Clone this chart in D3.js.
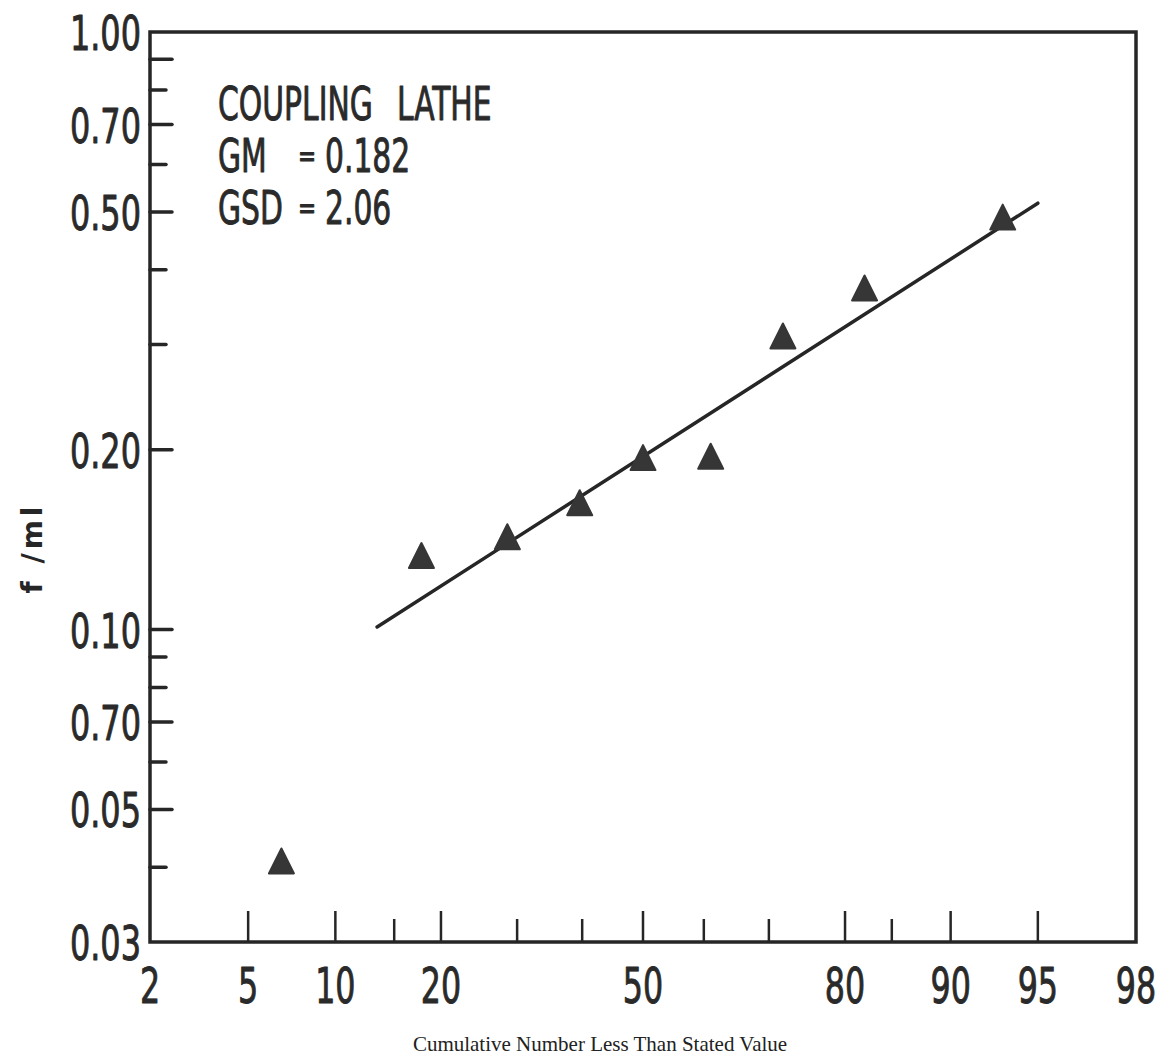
<!DOCTYPE html>
<html>
<head>
<meta charset="utf-8">
<script src="https://cdn.jsdelivr.net/npm/d3@7"></script>
<style>
  html, body { margin: 0; padding: 0; background: #fff; }
  svg { display: block; }
  .letter { font-family: "Liberation Sans Narrow", "DejaVu Sans Condensed", "Liberation Sans", sans-serif; fill: #2a2a2a; stroke: #2a2a2a; stroke-width: 0.9px; stroke-linejoin: round; }
</style>
</head>
<body>
<script>
// values (cumulative % vs fibres per ml)
var cum_pct = [ 6.6, 17.8, 28.6, 39.6, 50.0, 61.1, 72.0, 82.2, 93.3 ];
var fiber_conc = [ 0.041, 0.133, 0.143, 0.163, 0.194, 0.195, 0.310, 0.373, 0.490 ];
var fit_pct = [ 13.4, 95.0 ];
var fit_conc = [ 0.101, 0.517 ];

var y_ticks = [ 0.9, 0.8, 0.7, 0.6, 0.5, 0.4, 0.3, 0.2, 0.1, 0.09, 0.08, 0.07, 0.06, 0.05, 0.04 ];
var y_long = [ 0.9, 0.7, 0.5, 0.2, 0.1, 0.07, 0.05 ];
var y_label_vals = [ 1.0, 0.7, 0.5, 0.2, 0.1, 0.07, 0.05, 0.03 ];
var y_label_text = [ "1.00", "0.70", "0.50", "0.20", "0.10", "0.70", "0.05", "0.03" ];

var x_ticks = [ 5, 10, 15, 20, 30, 40, 50, 60, 70, 80, 85, 90, 95 ];
var x_long = [ 5, 10, 20, 50, 80, 90, 95 ];
var x_labels = [ 2, 5, 10, 20, 50, 80, 90, 95, 98 ];

var note_lines = [ [ "COUPLING", "LATHE" ], [ "GM", "=", "0.182" ], [ "GSD", "=", "2.06" ] ];

// inverse normal cdf (Acklam), used for the probability axis
function probit( p ){
  var a = [ -3.969683028665376e+01, 2.209460984245205e+02, -2.759285104469687e+02, 1.383577518672690e+02, -3.066479806614716e+01, 2.506628277459239e+00 ];
  var b = [ -5.447609879822406e+01, 1.615858368580409e+02, -1.556989798598866e+02, 6.680131188771972e+01, -1.328068155288572e+01 ];
  var c = [ -7.784894002430293e-03, -3.223964580411365e-01, -2.400758277161838e+00, -2.549671010522080e+00, 4.374664141464968e+00, 2.938163982698783e+00 ];
  var d = [ 7.784695709041462e-03, 3.224671290700398e-01, 2.445134137142996e+00, 3.754408661907416e+00 ];
  var plow = 0.02425, q, r;
  if( p < plow ){
    q = Math.sqrt( -2 * Math.log( p ) );
    return ( ( ( ( ( c[0] * q + c[1] ) * q + c[2] ) * q + c[3] ) * q + c[4] ) * q + c[5] ) /
      ( ( ( ( d[0] * q + d[1] ) * q + d[2] ) * q + d[3] ) * q + 1 );
  }
  if( p > 1 - plow ){
    return -probit( 1 - p );
  }
  q = p - 0.5; r = q * q;
  return ( ( ( ( ( a[0] * r + a[1] ) * r + a[2] ) * r + a[3] ) * r + a[4] ) * r + a[5] ) * q /
    ( ( ( ( ( b[0] * r + b[1] ) * r + b[2] ) * r + b[3] ) * r + b[4] ) * r + 1 );
}

var W = 1168, H = 1057;
var plot = { l: 150, r: 1136, t: 32, b: 942 };

var z = d3.scaleLinear()
  .domain( [ probit( 0.02 ), probit( 0.98 ) ] )
  .range( [ plot.l, plot.r ] );
var x = function( pct ){ return z( probit( pct / 100 ) ); };
var y = d3.scaleLog()
  .domain( [ 0.03, 1 ] )
  .range( [ plot.b, plot.t ] );

var svg = d3.select( "body" )
  .append( "svg" )
  .attr( "width", W )
  .attr( "height", H );

var ink = "#262626";

// squeezed lettering, like the stencil text on the original
function letter( g, txt, px, py, size, anchor, sx ){
  return g.append( "text" )
    .attr( "class", "letter" )
    .attr( "transform", "translate(" + px + "," + py + ") scale(" + sx + ",1)" )
    .attr( "text-anchor", anchor )
    .style( "font-size", size + "px" )
    .text( txt );
}

// frame
svg.append( "rect" )
  .attr( "x", plot.l )
  .attr( "y", plot.t )
  .attr( "width", plot.r - plot.l )
  .attr( "height", plot.b - plot.t )
  .attr( "fill", "none" )
  .attr( "stroke", ink )
  .attr( "stroke-width", 3.5 );

// y ticks
svg.append( "g" )
  .selectAll( "line" )
  .data( y_ticks )
  .enter()
  .append( "line" )
  .attr( "x1", plot.l )
  .attr( "x2", function( d ){ return plot.l + ( y_long.indexOf( d ) >= 0 ? 22 : 16 ); } )
  .attr( "y1", function( d ){ return y( d ); } )
  .attr( "y2", function( d ){ return y( d ); } )
  .attr( "stroke", ink )
  .attr( "stroke-width", 3.5 )
  .attr( "stroke-linecap", "round" );

var yl = svg.append( "g" );
y_label_vals.forEach( function( v, i ){
  letter( yl, y_label_text[ i ], 141, y( v ) + 18, 48, "end", 0.74 );
} );

// x ticks
svg.append( "g" )
  .selectAll( "line" )
  .data( x_ticks )
  .enter()
  .append( "line" )
  .attr( "x1", function( d ){ return x( d ); } )
  .attr( "x2", function( d ){ return x( d ); } )
  .attr( "y1", plot.b )
  .attr( "y2", function( d ){ return plot.b - ( x_long.indexOf( d ) >= 0 ? 31 : 23 ); } )
  .attr( "stroke", ink )
  .attr( "stroke-width", 2.5 );

var xl = svg.append( "g" );
x_labels.forEach( function( v ){
  letter( xl, String( v ), x( v ), 1003, 49, "middle", 0.72 );
} );

// fitted line
svg.append( "path" )
  .datum( d3.zip( fit_pct, fit_conc ) )
  .attr( "d", d3.line()
    .x( function( d ){ return x( d[0] ); } )
    .y( function( d ){ return y( d[1] ); } ) )
  .attr( "fill", "none" )
  .attr( "stroke", ink )
  .attr( "stroke-width", 3.5 )
  .attr( "stroke-linecap", "round" );

// triangle markers
var tri = {
  draw: function( ctx, size ){
    var h = Math.sqrt( size );
    ctx.moveTo( 0, -h / 2 );
    ctx.lineTo( h / 2, h / 2 );
    ctx.lineTo( -h / 2, h / 2 );
    ctx.closePath();
  }
};
svg.append( "g" )
  .selectAll( "path" )
  .data( d3.zip( cum_pct, fiber_conc ) )
  .enter()
  .append( "path" )
  .attr( "d", d3.symbol().type( tri ).size( 25 * 25 ) )
  .attr( "transform", function( d ){ return "translate(" + x( d[0] ) + "," + y( d[1] ) + ")"; } )
  .attr( "fill", "#363636" )
  .attr( "stroke", "#363636" )
  .attr( "stroke-width", 2 )
  .attr( "stroke-linejoin", "round" );

// notes block
var notes = svg.append( "g" );
note_lines.forEach( function( parts, i ){
  var base = 120 + i * 52;
  if( parts.length == 2 ){
    letter( notes, parts[0], 218, base, 46, "start", 0.72 );
    letter( notes, parts[1], 397, base, 46, "start", 0.72 );
    return;
  }
  letter( notes, parts[0], 218, base, 46, "start", 0.72 );
  letter( notes, parts[1], 307, base - 6, 30, "middle", 0.8 );
  letter( notes, parts[2], 325, base, 46, "start", 0.72 );
} );

// axis titles
svg.append( "text" )
  .attr( "x", 600 )
  .attr( "y", 1051 )
  .attr( "text-anchor", "middle" )
  .style( "font-family", "\"Liberation Serif\", \"DejaVu Serif\", serif" )
  .style( "font-size", "21px" )
  .attr( "fill", "#222" )
  .text( "Cumulative Number Less Than Stated Value" );

svg.append( "text" )
  .attr( "transform", "translate(42,548) rotate(-90)" )
  .attr( "text-anchor", "middle" )
  .style( "font-family", "\"DejaVu Sans\", sans-serif" )
  .style( "font-weight", "bold" )
  .style( "font-size", "28px" )
  .style( "letter-spacing", "4px" )
  .attr( "fill", ink )
  .text( "f /ml" );
</script>
</body>
</html>
